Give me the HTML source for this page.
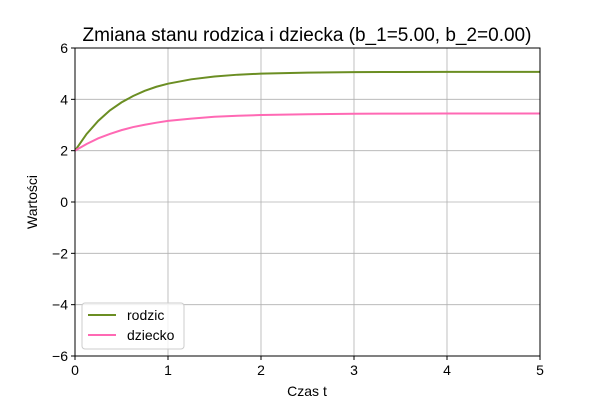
<!DOCTYPE html>
<html><head><meta charset="utf-8"><style>
body{margin:0;background:#fff}
svg text{font-family:"Liberation Sans","DejaVu Sans",sans-serif;fill:#000}
</style></head><body>
<svg id="chart" width="600" height="400" xmlns="http://www.w3.org/2000/svg">
<rect width="600" height="400" fill="#fff"/>
<g id="grid"></g><g id="series"></g><g id="axes"></g>
<text x="307" y="41" font-size="19" text-anchor="middle">Zmiana stanu rodzica i dziecka (b_1=5.00, b_2=0.00)</text>
<text x="307" y="396" font-size="14" text-anchor="middle">Czas t</text>
<text transform="translate(37,202) rotate(-90)" font-size="14" text-anchor="middle">Wartości</text>
<g>
<rect x="82" y="303" width="102" height="46" rx="3" fill="#fff" fill-opacity="0.8" stroke="#ccc"/>
<line x1="88" y1="315" x2="116" y2="315" stroke="#6b8e23" stroke-width="2"/>
<text x="127" y="320" font-size="14">rodzic</text>
<line x1="88" y1="335" x2="116" y2="335" stroke="#ff69b4" stroke-width="2"/>
<text x="127" y="340" font-size="14">dziecko</text>
</g>
</svg>
<script>
const tValues=[0,0.125,0.25,0.375,0.5,0.625,0.75,0.875,1,1.25,1.5,1.75,2,2.5,3,3.5,4,5];
const rodzicValues=[2,2.65,3.16,3.57,3.88,4.13,4.33,4.49,4.61,4.78,4.89,4.96,5.0,5.04,5.06,5.065,5.07,5.07];
const dzieckoValues=[2,2.26,2.48,2.65,2.80,2.92,3.01,3.09,3.16,3.25,3.32,3.36,3.39,3.42,3.44,3.445,3.45,3.45];
const xTicks=[0,1,2,3,4,5];
const yTicks=[-6,-4,-2,0,2,4,6];
const X0=75,X1=540,Y0=356,Y1=48;
const sx=v=>X0+(v-0)/(5-0)*(X1-X0);
const sy=v=>Y0-(v+6)/12*(Y0-Y1);
const NS="http://www.w3.org/2000/svg";
function mk(p,tag,a){const e=document.createElementNS(NS,tag);for(const k in a)e.setAttribute(k,a[k]);p.appendChild(e);return e;}
const grid=document.getElementById('grid'),axes=document.getElementById('axes'),series=document.getElementById('series');
xTicks.forEach(t=>{const x=sx(t);
 const g=mk(grid,'line',{x1:x,x2:x,y1:Y1,y2:Y0,stroke:'#b0b0b0','stroke-width':0.8});
 
 
 mk(axes,'line',{x1:x,x2:x,y1:Y0,y2:Y0+4,stroke:'#000'});
 const tx=mk(axes,'text',{x:x,y:Y0+19,'font-size':14,'text-anchor':'middle'});tx.textContent=t;
 
 
});
yTicks.forEach(t=>{const y=sy(t);
 const g=mk(grid,'line',{x1:X0,x2:X1,y1:y,y2:y,stroke:'#b0b0b0','stroke-width':0.8});
 
 
 mk(axes,'line',{x1:X0-4,x2:X0,y1:y,y2:y,stroke:'#000'});
 const tx=mk(axes,'text',{x:X0-7,y:y+5,'font-size':14,'text-anchor':'end'});tx.textContent=(t<0?'\u2212'+(-t):t);
 
 
});
const fr=mk(axes,'rect',{x:X0,y:Y1,width:X1-X0,height:Y0-Y1,fill:'none',stroke:'#000','stroke-width':1});


function line(vals,color,name){
 const d=vals.map((v,i)=>(i?'L':'M')+sx(tValues[i]).toFixed(2)+','+sy(v).toFixed(2)).join('');
 const p=mk(series,'path',{d:d,fill:'none',stroke:color,'stroke-width':2});
 
 
}
line(rodzicValues,'#6b8e23','line-rodzic');
line(dzieckoValues,'#ff69b4','line-dziecko');
</script>
</body></html>
